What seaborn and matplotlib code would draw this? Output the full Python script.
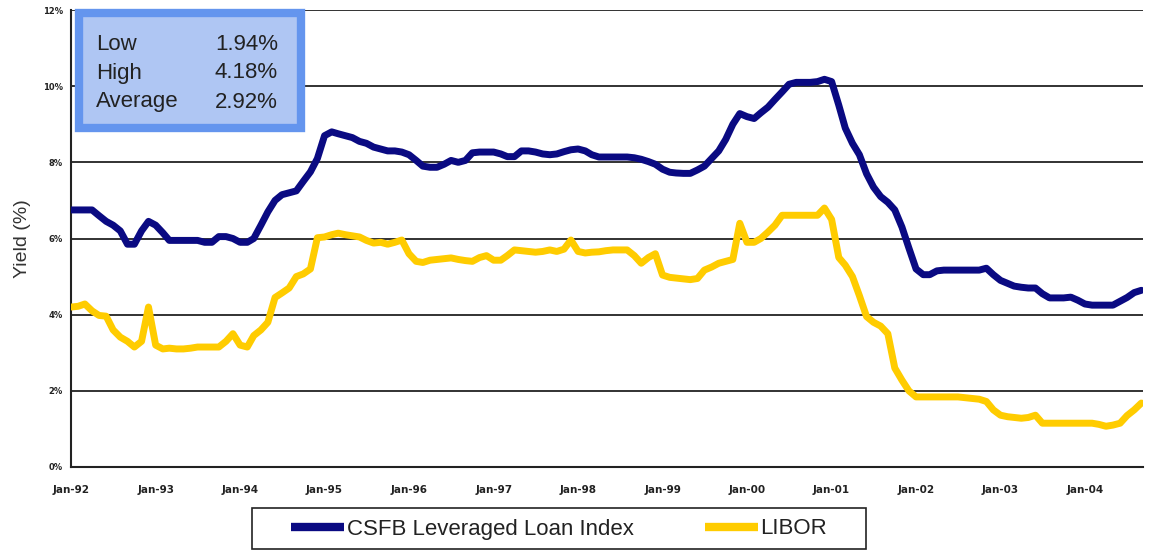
import numpy as np
import pandas as pd
import matplotlib
matplotlib.use("Agg")
import matplotlib.pyplot as plt
import matplotlib.dates as mdates
from matplotlib.patches import Rectangle
from matplotlib.lines import Line2D
import seaborn as sns

# Monthly yields, Jan-1992 .. Sep-2004 (%)
months = pd.date_range("1992-01-01", "2004-09-01", freq="MS")

csfb = [
    # 1992
    6.75, 6.75, 6.75, 6.75, 6.60, 6.45, 6.35, 6.20, 5.85, 5.85, 6.20, 6.45,
    # 1993
    6.35, 6.15, 5.95, 5.95, 5.95, 5.95, 5.95, 5.90, 5.90, 6.05, 6.05, 6.00,
    # 1994
    5.90, 5.90, 6.00, 6.35, 6.70, 7.00, 7.15, 7.20, 7.25, 7.50, 7.75, 8.10,
    # 1995
    8.70, 8.80, 8.75, 8.70, 8.65, 8.55, 8.50, 8.40, 8.35, 8.30, 8.30, 8.27,
    # 1996
    8.20, 8.05, 7.90, 7.87, 7.87, 7.95, 8.05, 8.00, 8.05, 8.25, 8.27, 8.27,
    # 1997
    8.27, 8.22, 8.15, 8.15, 8.30, 8.30, 8.27, 8.22, 8.20, 8.22, 8.28, 8.33,
    # 1998
    8.35, 8.30, 8.20, 8.14, 8.14, 8.14, 8.14, 8.14, 8.12, 8.08, 8.02, 7.95,
    # 1999
    7.82, 7.74, 7.72, 7.71, 7.71, 7.80, 7.90, 8.10, 8.30, 8.60, 9.00, 9.28,
    # 2000
    9.20, 9.15, 9.30, 9.45, 9.65, 9.85, 10.05, 10.10, 10.10, 10.10, 10.12, 10.18,
    # 2001
    10.12, 9.50, 8.90, 8.50, 8.20, 7.70, 7.35, 7.10, 6.95, 6.75, 6.30, 5.75,
    # 2002
    5.20, 5.05, 5.05, 5.15, 5.17, 5.17, 5.17, 5.17, 5.17, 5.17, 5.22, 5.05,
    # 2003
    4.90, 4.82, 4.75, 4.72, 4.70, 4.70, 4.55, 4.44, 4.44, 4.44, 4.46, 4.38,
    # 2004
    4.28, 4.25, 4.25, 4.25, 4.25, 4.35, 4.45, 4.58, 4.64,
]

libor = [
    # 1992
    4.20, 4.22, 4.28, 4.10, 3.98, 3.96, 3.60, 3.41, 3.30, 3.15, 3.30, 4.20,
    # 1993
    3.20, 3.10, 3.12, 3.10, 3.10, 3.12, 3.15, 3.15, 3.15, 3.15, 3.30, 3.50,
    # 1994
    3.20, 3.15, 3.45, 3.60, 3.80, 4.45, 4.57, 4.70, 5.00, 5.07, 5.20, 6.02,
    # 1995
    6.04, 6.10, 6.14, 6.10, 6.07, 6.04, 5.95, 5.88, 5.90, 5.85, 5.90, 5.96,
    # 1996
    5.60, 5.40, 5.37, 5.43, 5.45, 5.47, 5.49, 5.45, 5.42, 5.40, 5.50, 5.55,
    # 1997
    5.43, 5.43, 5.55, 5.70, 5.68, 5.66, 5.64, 5.66, 5.70, 5.66, 5.72, 5.96,
    # 1998
    5.66, 5.62, 5.64, 5.65, 5.68, 5.70, 5.70, 5.70, 5.55, 5.35, 5.50, 5.60,
    # 1999
    5.04, 4.98, 4.96, 4.94, 4.92, 4.95, 5.17, 5.25, 5.35, 5.40, 5.45, 6.40,
    # 2000
    5.90, 5.90, 6.00, 6.17, 6.35, 6.61, 6.61, 6.61, 6.61, 6.61, 6.61, 6.80,
    # 2001
    6.50, 5.50, 5.30, 5.00, 4.50, 3.95, 3.80, 3.70, 3.50, 2.60, 2.28, 2.00,
    # 2002
    1.84, 1.84, 1.84, 1.84, 1.84, 1.84, 1.84, 1.82, 1.80, 1.78, 1.72, 1.50,
    # 2003
    1.36, 1.32, 1.30, 1.28, 1.30, 1.36, 1.15, 1.15, 1.15, 1.15, 1.15, 1.15,
    # 2004
    1.15, 1.15, 1.12, 1.07, 1.10, 1.15, 1.35, 1.50, 1.68,
]

series_names = ["CSFB Leveraged Loan Index", "LIBOR"]
series_colors = ["#0a0a82", "#ffcc00"]

y_ticks = [0, 2, 4, 6, 8, 10, 12]
y_tick_labels = ["0%", "2%", "4%", "6%", "8%", "10%", "12%"]
x_tick_years = list(range(1992, 2005))

stat_labels = ["Low", "High", "Average"]
stat_values = [1.94, 4.18, 2.92]

df = pd.concat([
    pd.DataFrame({"date": months, "yield": csfb, "series": series_names[0]}),
    pd.DataFrame({"date": months, "yield": libor, "series": series_names[1]}),
])

sns.set_style("white")
plt.rcParams["font.family"] = ["Liberation Sans", "DejaVu Sans"]

W, H = 1149, 550
fig = plt.figure(figsize=(W / 100, H / 100), dpi=100)
ax = fig.add_axes([71 / W, 1 - 467 / H, (1143 - 71) / W, (467 - 10) / H])

# horizontal grid lines
for yv in y_ticks[1:]:
    ax.axhline(yv, color="#222222", lw=1.3, zorder=1)

sns.lineplot(data=df, x="date", y="yield", hue="series",
             palette=dict(zip(series_names, series_colors)),
             linewidth=5, legend=False, ax=ax, zorder=3)

ax.set_ylim(0, 12)
ax.set_xlim(pd.Timestamp("1992-01-01"), pd.Timestamp("2004-09-08"))
ax.set_yticks(y_ticks)
ax.set_yticklabels(y_tick_labels, fontsize=6, fontweight="bold",
                   family="DejaVu Sans")
xt = [pd.Timestamp(f"{y}-01-01") for y in x_tick_years]
ax.set_xticks(xt)
ax.set_xticklabels([f"Jan-{str(y)[2:]}" for y in x_tick_years],
                   fontsize=7.5, fontweight="bold", family="DejaVu Sans")
ax.tick_params(axis="y", direction="inout", length=8, width=1.2, pad=2, colors="#222222")
ax.tick_params(axis="x", direction="inout", length=8, width=1.2, pad=9, colors="#222222")
ax.set_xlabel("")
ax.set_ylabel("Yield (%)", fontsize=14, color="#333333", labelpad=8)

for s in ["top", "right"]:
    ax.spines[s].set_visible(False)
for s in ["left", "bottom"]:
    ax.spines[s].set_color("#222222")
    ax.spines[s].set_linewidth(1.5)

# summary statistics panel
bx0, by0, bx1, by1 = 79, 13, 301, 128
fig.add_artist(Rectangle((bx0 / W, 1 - by1 / H), (bx1 - bx0) / W, (by1 - by0) / H,
                         transform=fig.transFigure, facecolor="#afc6f3",
                         edgecolor="#6495ee", linewidth=6, zorder=10))
row_y = [45, 73, 102]
for lab, val, yy in zip(stat_labels, stat_values, row_y):
    fig.text(96 / W, 1 - yy / H, lab, fontsize=16, color="#222222",
             va="center", ha="left", zorder=11)
    fig.text(278 / W, 1 - yy / H, f"{val:.2f}%", fontsize=16, color="#222222",
             va="center", ha="right", zorder=11)

# legend with a wide rectangular frame beneath the plot
lx0, ly0, lx1, ly1 = 252, 508, 866, 549
fig.add_artist(Rectangle((lx0 / W, 1 - ly1 / H), (lx1 - lx0) / W, (ly1 - ly0) / H,
                         transform=fig.transFigure, facecolor="white",
                         edgecolor="#222222", linewidth=1.2, zorder=5))
handles = [Line2D([], [], color=c, lw=6, solid_capstyle="butt") for c in series_colors]
leg = fig.legend(handles, series_names, loc="center",
                 bbox_to_anchor=(559 / W, 1 - 529 / H), ncol=2,
                 frameon=False, fontsize=16,
                 handlelength=2.4, handletextpad=0.1, columnspacing=3.2,
                 borderpad=0.3)
leg.set_zorder(6)
for t in leg.get_texts():
    t.set_color("#222222")

fig.savefig("out.png", dpi=100)
